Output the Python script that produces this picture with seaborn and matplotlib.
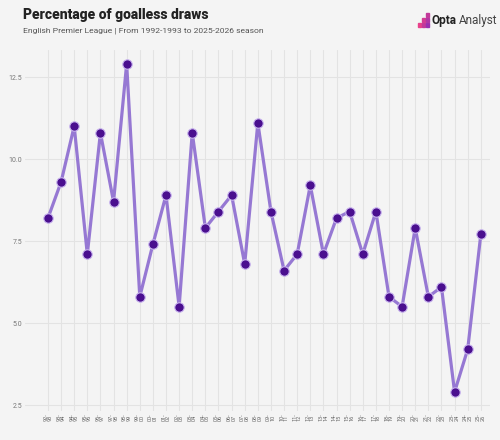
import pandas as pd
import matplotlib
matplotlib.use('Agg')
import matplotlib.pyplot as plt
import seaborn as sns

# Seasons and goalless-draw percentages
seasons = ['92-93', '93-94', '94-95', '95-96', '96-97', '97-98', '98-99', '99-00',
           '00-01', '01-02', '02-03', '03-04', '04-05', '05-06', '06-07', '07-08',
           '08-09', '09-10', '10-11', '11-12', '12-13', '13-14', '14-15', '15-16',
           '16-17', '17-18', '18-19', '19-20', '20-21', '21-22', '22-23', '23-24',
           '24-25', '25-26']
pct_goalless = [8.2, 9.3, 11.0, 7.1, 10.8, 8.7, 12.9, 5.8,
                7.4, 8.9, 5.5, 10.8, 7.9, 8.4, 8.9, 6.8,
                11.1, 8.4, 6.6, 7.1, 9.2, 7.1, 8.2, 8.4,
                7.1, 8.4, 5.8, 5.5, 7.9, 5.8, 6.1, 2.9,
                4.2, 7.7]
y_ticks = [2.5, 5.0, 7.5, 10.0, 12.5]

df = pd.DataFrame({'season': seasons, 'pct': pct_goalless})
df['idx'] = range(len(df))

sns.set_style('white')
plt.rcParams['font.family'] = ['Roboto', 'DejaVu Sans']

bg = '#f4f4f4'
fig = plt.figure(figsize=(5, 4.4), dpi=100, facecolor=bg)
ax = fig.add_axes([0.05, 0.066, 0.93, 0.82], facecolor=bg)

sns.lineplot(data=df, x='idx', y='pct', ax=ax, color='#9678d3', linewidth=2.3,
             marker='o', markersize=6.8, markerfacecolor='#4a0f8f',
             markeredgecolor='#c9b5ef', markeredgewidth=0.8, zorder=3)

ax.set_xlim(-1.75, len(seasons) - 0.3)
ax.set_ylim(2.32, 13.32)
ax.set_yticks(y_ticks)
ax.set_yticklabels([f'{v:.1f}' for v in y_ticks], fontsize=5, color='#777777')
ax.set_xticks(df['idx'])
ax.set_xticklabels([s.replace('-', '-\n') for s in seasons], rotation=90,
                   fontsize=4, color='#666666', linespacing=0.85)
ax.tick_params(length=0, pad=2)
ax.grid(True, color='#e3e3e3', linewidth=0.8)
ax.set_axisbelow(True)
for sp in ax.spines.values():
    sp.set_visible(False)
ax.set_xlabel('')
ax.set_ylabel('')

fig.text(0.046, 0.966, 'Percentage of goalless draws', fontsize=10, fontweight='heavy',
         color='#222222', va='center')
fig.text(0.046, 0.93, 'English Premier League | From 1992-1993 to 2025-2026 season',
         fontsize=6.1, color='#555555', va='center')

# Opta Analyst logo
for dx, dy, c in [(0.0, 0.0, '#e8418b'), (0.008, 0.0, '#c2399a'), (0.008, 0.012, '#d23c93'),
                  (0.016, 0.0, '#9a2fb0'), (0.016, 0.012, '#b035a5'), (0.016, 0.024, '#c2399a')]:
    fig.patches.append(plt.Rectangle((0.836 + dx, 0.938 + dy), 0.006, 0.009,
                                     transform=fig.transFigure, color=c))
fig.text(0.862, 0.953, 'Opta', fontsize=8.5, fontweight='bold', color='#222222', va='center')
fig.text(0.918, 0.953, 'Analyst', fontsize=8.5, color='#444444', va='center')

fig.savefig('out.png', dpi=100, facecolor=bg)
